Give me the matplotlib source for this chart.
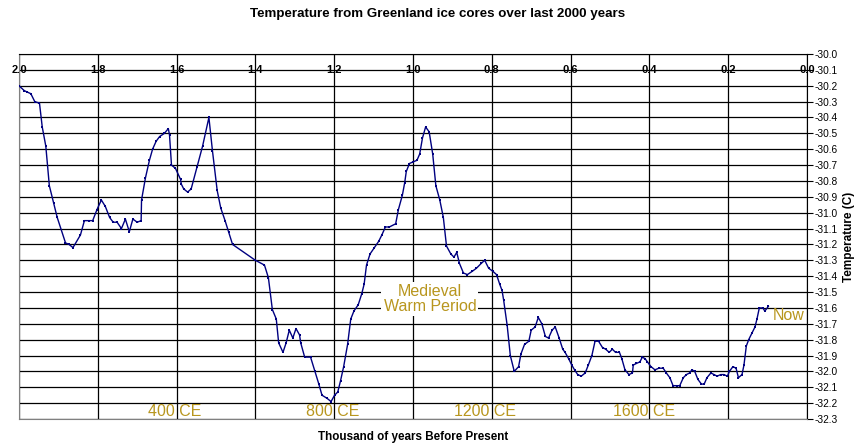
import matplotlib
matplotlib.use('Agg')
import matplotlib.pyplot as plt
import numpy as np

plt.rcParams['font.family'] = ['Liberation Sans', 'DejaVu Sans']

# thousand of years before present / temperature (C)
KYR_BP = [2.000, 1.987, 1.979, 1.970, 1.960, 1.948, 1.941, 1.932, 1.923, 1.912,
          1.903, 1.882, 1.873, 1.863, 1.844, 1.834, 1.823, 1.813, 1.802, 1.791,
          1.781, 1.770, 1.761, 1.751, 1.740, 1.730, 1.720, 1.711, 1.700, 1.690,
          1.689, 1.679, 1.669, 1.661, 1.652, 1.643, 1.631, 1.621, 1.618, 1.613,
          1.603, 1.590, 1.588, 1.582, 1.572, 1.563, 1.548, 1.534, 1.518, 1.509,
          1.497, 1.488, 1.477, 1.468, 1.458, 1.400, 1.377, 1.367, 1.357, 1.347,
          1.341, 1.330, 1.322, 1.314, 1.305, 1.297, 1.288, 1.285, 1.275, 1.260,
          1.249, 1.239, 1.231, 1.218, 1.208, 1.199, 1.191, 1.184, 1.176, 1.166,
          1.158, 1.150, 1.139, 1.130, 1.124, 1.118, 1.109, 1.098, 1.087, 1.079,
          1.070, 1.060, 1.044, 1.037, 1.027, 1.021, 1.017, 1.009, 1.000, 0.990,
          0.983, 0.976, 0.968, 0.959, 0.950, 0.942, 0.932, 0.923, 0.915, 0.904,
          0.896, 0.889, 0.882, 0.872, 0.862, 0.850, 0.839, 0.827, 0.818, 0.808,
          0.797, 0.788, 0.780, 0.774, 0.770, 0.761, 0.753, 0.743, 0.732, 0.726,
          0.717, 0.706, 0.700, 0.690, 0.682, 0.673, 0.664, 0.656, 0.647, 0.639,
          0.629, 0.620, 0.614, 0.605, 0.597, 0.590, 0.582, 0.573, 0.563, 0.555,
          0.546, 0.538, 0.529, 0.519, 0.511, 0.502, 0.494, 0.486, 0.476, 0.470,
          0.462, 0.452, 0.443, 0.441, 0.433, 0.424, 0.418, 0.411, 0.405, 0.396,
          0.386, 0.376, 0.365, 0.357, 0.348, 0.340, 0.331, 0.323, 0.314, 0.306,
          0.298, 0.292, 0.285, 0.277, 0.268, 0.261, 0.254, 0.244, 0.236, 0.228,
          0.219, 0.211, 0.202, 0.197, 0.188, 0.180, 0.174, 0.165, 0.160, 0.154,
          0.148, 0.140, 0.132, 0.127, 0.121, 0.112, 0.107, 0.098]
TEMP_C = [-30.20, -30.23, -30.24, -30.25, -30.30, -30.31, -30.46, -30.58, -30.83, -30.94,
          -31.03, -31.19, -31.20, -31.22, -31.14, -31.05, -31.05, -31.05, -30.98, -30.92,
          -30.96, -31.03, -31.06, -31.06, -31.10, -31.04, -31.12, -31.04, -31.06, -31.05,
          -30.92, -30.78, -30.67, -30.60, -30.55, -30.52, -30.50, -30.47, -30.51, -30.70,
          -30.72, -30.79, -30.82, -30.85, -30.87, -30.85, -30.71, -30.58, -30.40, -30.61,
          -30.86, -30.97, -31.05, -31.12, -31.20, -31.30, -31.33, -31.41, -31.61, -31.67,
          -31.82, -31.88, -31.82, -31.74, -31.79, -31.73, -31.77, -31.82, -31.91, -31.91,
          -32.00, -32.08, -32.15, -32.17, -32.19, -32.15, -32.13, -32.06, -31.97, -31.83,
          -31.67, -31.62, -31.58, -31.51, -31.45, -31.33, -31.26, -31.22, -31.18, -31.14,
          -31.09, -31.09, -31.07, -30.98, -30.89, -30.81, -30.74, -30.69, -30.68, -30.67,
          -30.63, -30.53, -30.46, -30.49, -30.63, -30.83, -30.92, -31.03, -31.21, -31.26,
          -31.28, -31.25, -31.32, -31.38, -31.39, -31.37, -31.35, -31.32, -31.30, -31.35,
          -31.37, -31.39, -31.45, -31.49, -31.55, -31.71, -31.90, -32.00, -31.97, -31.89,
          -31.83, -31.81, -31.74, -31.72, -31.66, -31.70, -31.78, -31.79, -31.74, -31.72,
          -31.79, -31.86, -31.88, -31.92, -31.96, -31.99, -32.02, -32.03, -32.01, -31.96,
          -31.90, -31.81, -31.81, -31.85, -31.86, -31.88, -31.86, -31.88, -31.88, -31.92,
          -31.99, -32.02, -32.01, -31.96, -31.95, -31.94, -31.91, -31.92, -31.94, -31.97,
          -31.99, -31.98, -31.98, -32.01, -32.04, -32.09, -32.09, -32.09, -32.04, -32.02,
          -32.01, -31.99, -32.00, -32.05, -32.08, -32.08, -32.04, -32.01, -32.02, -32.03,
          -32.02, -32.02, -32.03, -32.00, -31.97, -31.98, -32.04, -32.02, -31.96, -31.84,
          -31.80, -31.76, -31.72, -31.67, -31.60, -31.60, -31.62, -31.59]

X_TICKS = [2.0, 1.8, 1.6, 1.4, 1.2, 1.0, 0.8, 0.6, 0.4, 0.2, 0.0]
X_TICK_LABELS = ['2.0', '1.8', '1.6', '1.4', '1.2', '1.0', '0.8', '0.6', '0.4', '0.2', '0.0']
Y_TICKS = [-30.0, -30.1, -30.2, -30.3, -30.4, -30.5, -30.6, -30.7, -30.8, -30.9, -31.0, -31.1,
           -31.2, -31.3, -31.4, -31.5, -31.6, -31.7, -31.8, -31.9, -32.0, -32.1, -32.2, -32.3]

ERA_LABELS = ['400 CE', '800 CE', '1200 CE', '1600 CE']
ERA_X = [1.605, 1.204, 0.8185, 0.4145]

GOLD = '#B8961E'
LINE = '#000080'

fig = plt.figure(figsize=(8.67, 4.45), dpi=100)
ax = fig.add_axes([19 / 867, 1 - 419 / 445, 788 / 867, 365 / 445])

ax.plot(KYR_BP, TEMP_C, color=LINE, lw=1.0, marker='s', ms=1.6, mew=0, zorder=3)

ax.set_xlim(2.0, 0.0)
ax.set_ylim(-32.3, -30.0)
ax.set_xticks(X_TICKS)
ax.set_xticklabels([])
ax.tick_params(axis='x', length=0)

ax.yaxis.tick_right()
ax.set_yticks(Y_TICKS)
ax.set_yticklabels(['%.1f' % v for v in Y_TICKS], fontsize=7.3)
ax.tick_params(axis='y', direction='out', length=4, width=0.8, pad=1.5)

ax.grid(True, color='black', lw=0.9)
ax.set_axisbelow(True)
for side in ['left', 'bottom']:
    ax.spines[side].set_color('#808080')
for side in ['top', 'right']:
    ax.spines[side].set_color('black')

# x tick labels sit on the -30.1 line, like the excel axis crossing
for x, lab in zip(X_TICKS, X_TICK_LABELS):
    ax.text(x, -30.1, lab, ha='center', va='center', fontsize=8, fontweight='bold', zorder=2)

ax.yaxis.set_label_position('right')
ax.set_ylabel('Temperature (C)', fontsize=8.5, fontweight='bold', labelpad=4)
ax.set_xlabel('Thousand of years Before Present', fontsize=8.4, fontweight='bold', labelpad=5)

fig.text(437.5 / 867, 1 - 14 / 445, 'Temperature from Greenland ice cores over last 2000 years',
         ha='center', va='center', fontsize=9.6, fontweight='bold')

for x, lab in zip(ERA_X, ERA_LABELS):
    ax.text(x, -32.25, lab, ha='center', va='center', color=GOLD, fontsize=11.5, zorder=4)

ax.text(0.957, -31.544, 'Medieval\nWarm Period', ha='center', va='center', color=GOLD,
        fontsize=11.5, linespacing=1.05, zorder=4,
        bbox=dict(facecolor='white', edgecolor='none', pad=1.5))
ax.text(0.087, -31.65, 'Now', ha='left', va='center', color=GOLD, fontsize=11.5, zorder=4)

fig.savefig('out.png', dpi=100)
